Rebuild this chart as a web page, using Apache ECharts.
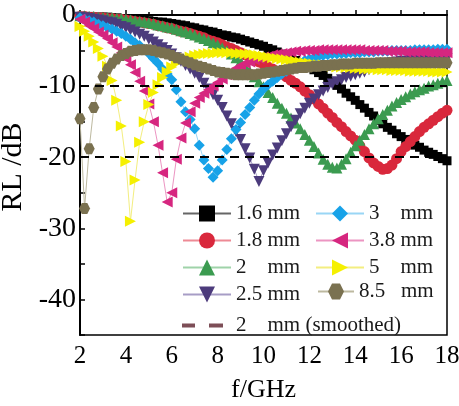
<!DOCTYPE html>
<html>
<head>
<meta charset="utf-8">
<script src="https://cdn.jsdelivr.net/npm/echarts@6/dist/echarts.min.js"></script>
<style>
    html, body { margin: 0; padding: 0; background: #fff; }
    #main { width: 459px; height: 406px; }
</style>
</head>
<body>
<div id="main"></div>
<script>
var freq = [2.0, 2.2, 2.4, 2.6, 2.8, 3.0, 3.2, 3.4, 3.6, 3.8,
    4.0, 4.2, 4.4, 4.6, 4.8, 5.0, 5.2, 5.4, 5.6, 5.8,
    6.0, 6.2, 6.4, 6.6, 6.8, 7.0, 7.2, 7.4, 7.6, 7.8,
    8.0, 8.2, 8.4, 8.6, 8.8, 9.0, 9.2, 9.4, 9.6, 9.8,
    10.0, 10.2, 10.4, 10.6, 10.8, 11.0, 11.2, 11.4, 11.6, 11.8,
    12.0, 12.2, 12.4, 12.6, 12.8, 13.0, 13.2, 13.4, 13.6, 13.8,
    14.0, 14.2, 14.4, 14.6, 14.8, 15.0, 15.2, 15.4, 15.6, 15.8,
    16.0, 16.2, 16.4, 16.6, 16.8, 17.0, 17.2, 17.4, 17.6, 17.8,
    18.0];

// RL (dB) for each thickness, one row per GHz
var rl16 = [-0.2, -0.2, -0.2, -0.3, -0.3, -0.3, -0.3, -0.4, -0.4, -0.5,
    -0.5, -0.6, -0.6, -0.7, -0.7, -0.8, -0.9, -1.0, -1.0, -1.1,
    -1.2, -1.3, -1.4, -1.5, -1.7, -1.8, -2.0, -2.1, -2.3, -2.4,
    -2.6, -2.8, -2.9, -3.1, -3.2, -3.4, -3.6, -3.8, -4.0, -4.2,
    -4.4, -4.7, -4.9, -5.2, -5.5, -5.8, -6.1, -6.4, -6.7, -7.0,
    -7.3, -7.7, -8.1, -8.5, -8.9, -9.4, -9.9, -10.4, -11.0, -11.5,
    -12.0, -12.6, -13.1, -13.7, -14.2, -14.8, -15.3, -15.8, -16.2, -16.7,
    -17.1, -17.5, -17.9, -18.3, -18.6, -19.0, -19.3, -19.6, -19.9, -20.2,
    -20.5];
var rl18 = [-0.2, -0.2, -0.3, -0.3, -0.4, -0.4, -0.5, -0.5, -0.6, -0.6,
    -0.7, -0.8, -0.9, -1.0, -1.1, -1.2, -1.3, -1.5, -1.6, -1.8,
    -1.9, -2.1, -2.3, -2.4, -2.6, -2.8, -3.0, -3.2, -3.5, -3.7,
    -3.9, -4.2, -4.5, -4.7, -5.0, -5.3, -5.6, -5.9, -6.3, -6.6,
    -6.9, -7.3, -7.6, -8.0, -8.3, -8.7, -9.2, -9.6, -10.1, -10.7,
    -11.2, -11.8, -12.5, -13.1, -13.8, -14.4, -15.1, -15.7, -16.4, -17.0,
    -17.6, -18.4, -19.2, -20.1, -20.8, -21.3, -21.7, -21.6, -21.1, -20.2,
    -19.2, -18.5, -17.8, -17.1, -16.4, -15.8, -15.3, -14.8, -14.3, -13.8,
    -13.4];
var rl20 = [-0.1, -0.1, -0.2, -0.2, -0.3, -0.3, -0.4, -0.4, -0.5, -0.5,
    -0.6, -0.7, -0.8, -0.9, -1.0, -1.1, -1.2, -1.4, -1.5, -1.7,
    -1.8, -2.0, -2.2, -2.4, -2.6, -2.8, -3.1, -3.3, -3.6, -3.9,
    -4.2, -4.6, -5.0, -5.5, -6.0, -6.5, -7.2, -7.9, -8.7, -9.4,
    -10.1, -10.9, -11.6, -12.4, -13.1, -13.8, -14.5, -15.2, -16.0, -16.8,
    -17.6, -18.5, -19.4, -20.3, -21.0, -21.4, -21.5, -21.0, -20.2, -19.3,
    -18.4, -17.6, -16.8, -16.0, -15.3, -14.6, -14.0, -13.4, -12.8, -12.3,
    -11.9, -11.5, -11.1, -10.8, -10.5, -10.3, -10.0, -9.8, -9.6, -9.4,
    -9.2];
var rl25 = [-0.3, -0.4, -0.5, -0.6, -0.7, -0.8, -1.0, -1.1, -1.3, -1.6,
    -1.8, -2.1, -2.4, -2.7, -3.0, -3.4, -3.8, -4.2, -4.6, -5.0,
    -5.5, -6.0, -6.5, -7.1, -7.6, -8.2, -8.8, -9.6, -10.4, -11.2,
    -12.0, -13.0, -14.2, -15.3, -16.4, -17.5, -18.8, -20.1, -21.7, -23.4,
    -21.9, -20.8, -19.7, -18.7, -17.7, -16.7, -15.7, -14.8, -13.9, -13.1,
    -12.4, -11.8, -11.2, -10.7, -10.2, -9.7, -9.4, -9.1, -8.8, -8.6,
    -8.4, -8.2, -8.0, -7.7, -7.5, -7.2, -7.0, -6.9, -6.7, -6.6,
    -6.5, -6.5, -6.4, -6.4, -6.3, -6.3, -6.2, -6.2, -6.2, -6.1,
    -6.1];
var rl30 = [-0.4, -0.6, -0.8, -1.0, -1.3, -1.5, -1.8, -2.0, -2.3, -2.6,
    -3.0, -3.4, -3.9, -4.3, -4.8, -5.4, -6.1, -6.8, -7.6, -8.3,
    -9.1, -10.5, -12.2, -13.6, -14.7, -16.0, -18.3, -20.4, -21.6, -22.8,
    -21.9, -20.4, -18.9, -17.4, -16.1, -15.1, -14.0, -13.0, -12.0, -11.1,
    -10.4, -9.8, -9.3, -8.8, -8.3, -7.9, -7.4, -7.0, -6.7, -6.4,
    -6.2, -6.0, -5.8, -5.7, -5.6, -5.5, -5.5, -5.4, -5.4, -5.3,
    -5.3, -5.3, -5.2, -5.2, -5.2, -5.1, -5.1, -5.1, -5.0, -5.0,
    -5.0, -5.0, -5.0, -4.9, -4.9, -4.9, -4.9, -4.9, -4.8, -4.8,
    -4.8];
var rl38 = [-0.6, -1.0, -1.5, -1.9, -2.4, -2.8, -3.3, -3.9, -4.5, -5.3,
    -6.1, -7.0, -8.1, -9.3, -10.7, -12.5, -15.0, -18.3, -22.2, -26.3,
    -25.0, -20.3, -17.3, -15.2, -13.6, -12.4, -11.6, -11.0, -10.5, -10.0,
    -9.5, -9.0, -8.4, -7.9, -7.5, -7.1, -6.8, -6.6, -6.3, -6.1,
    -5.9, -5.8, -5.6, -5.5, -5.4, -5.3, -5.2, -5.1, -5.1, -5.0,
    -5.0, -5.0, -4.9, -4.9, -4.9, -4.9, -4.9, -4.9, -4.9, -4.9,
    -4.9, -4.9, -5.0, -5.0, -5.0, -5.0, -5.0, -5.1, -5.1, -5.1,
    -5.1, -5.2, -5.2, -5.2, -5.2, -5.2, -5.3, -5.3, -5.3, -5.3,
    -5.3];
var rl50 = [-1.6, -2.3, -3.0, -3.8, -4.7, -5.8, -7.2, -9.2, -12.0, -15.6,
    -20.6, -29.0, -23.2, -17.9, -15.0, -12.6, -10.9, -9.8, -8.8, -8.0,
    -7.3, -6.8, -6.4, -6.1, -5.9, -5.7, -5.6, -5.5, -5.4, -5.4,
    -5.3, -5.3, -5.3, -5.3, -5.4, -5.4, -5.5, -5.5, -5.6, -5.7,
    -5.8, -5.9, -6.0, -6.1, -6.2, -6.3, -6.4, -6.5, -6.6, -6.7,
    -6.8, -6.9, -7.0, -7.0, -7.1, -7.2, -7.3, -7.3, -7.4, -7.4,
    -7.5, -7.5, -7.6, -7.6, -7.6, -7.7, -7.7, -7.7, -7.8, -7.8,
    -7.8, -7.8, -7.9, -7.9, -7.9, -7.9, -7.9, -8.0, -8.0, -8.0,
    -8.0];
var rl85 = [-14.6, -27.2, -18.8, -13.0, -10.4, -8.7, -7.6, -6.8, -6.2, -5.7,
    -5.4, -5.1, -5.0, -4.9, -4.9, -4.9, -5.0, -5.2, -5.3, -5.5,
    -5.7, -6.0, -6.2, -6.5, -6.7, -7.0, -7.2, -7.4, -7.6, -7.8,
    -8.0, -8.1, -8.2, -8.3, -8.4, -8.4, -8.4, -8.4, -8.4, -8.3,
    -8.2, -8.1, -8.0, -7.9, -7.8, -7.7, -7.6, -7.5, -7.4, -7.4,
    -7.3, -7.2, -7.2, -7.1, -7.1, -7.0, -7.0, -6.9, -6.9, -6.9,
    -6.8, -6.8, -6.8, -6.8, -6.8, -6.7, -6.7, -6.7, -6.7, -6.7,
    -6.7, -6.7, -6.7, -6.7, -6.7, -6.7, -6.7, -6.7, -6.7, -6.7,
    -6.7];

// smoothed 2 mm curve
var smoothFreq = [2, 3, 4, 5, 6, 7, 8, 8.5, 9, 9.5, 10, 10.5, 11, 11.5, 12, 12.5,
    13, 13.2, 13.5, 14, 14.5, 15, 15.5, 16, 16.5, 17, 17.5, 18];
var smoothRL = [-0.1, -0.3, -0.6, -1.1, -1.8, -2.8, -4.2, -5.2, -6.5, -8.3, -10.1, -12.0,
    -13.8, -15.6, -17.6, -19.9, -21.4, -21.6, -20.7, -18.4, -16.4, -14.6, -13.1,
    -11.9, -10.9, -10.2, -9.7, -9.2];

var refLevels = [-10, -20];
var yLabels = [0, -10, -20, -30, -40];

var names = ['1.6 mm', '1.8 mm', '2    mm', '2.5 mm', '3    mm', '3.8 mm', '5    mm', '8.5   mm'];
var smoothName = '2    mm (smoothed)';
var curves = [rl16, rl18, rl20, rl25, rl30, rl38, rl50, rl85];
var colors = ['#000000', '#d9283c', '#3b9b50', '#4c3b7c', '#17a2e8', '#d6267f', '#f5f000', '#7a7150'];
var lineColors = ['#666666', '#ee8a95', '#9fd3a9', '#a79dc6', '#99d6f5', '#ec95c2', '#f3ee80', '#bdb9a0'];
var symbols = [
    'rect',
    'circle',
    'triangle',
    'path://M0,0 L10,0 L5,9 Z',
    'diamond',
    'path://M0,5 L9,0 L9,10 Z',
    'path://M0,0 L9,5 L0,10 Z',
    'path://M-10,0 L-5,-8.66 L5,-8.66 L10,0 L5,8.66 L-5,8.66 Z'
];
var sizes = [9, 11, 11, 11, 11, 11, 11, 11];

var serif = 'Liberation Serif';

var series = curves.map(function (vals, k) {
    var s = {
        name: names[k],
        type: 'line',
        data: freq.map(function (f, i) { return [f, vals[i]]; }),
        symbol: symbols[k],
        symbolSize: sizes[k],
        showAllSymbol: true,
        itemStyle: { color: colors[k] },
        lineStyle: { color: lineColors[k], width: 1 }
    };
    if (k === 0) {
        s.markLine = {
            silent: true,
            symbol: 'none',
            label: { show: false },
            lineStyle: { color: '#000', type: [9, 6], width: 2 },
            data: refLevels.map(function (v) { return { yAxis: v }; })
        };
    }
    return s;
});

series.push({
    name: smoothName,
    type: 'line',
    data: smoothFreq.map(function (f, i) { return [f, smoothRL[i]]; }),
    smooth: 0.4,
    symbol: 'none',
    itemStyle: { color: '#7d4e57' },
    lineStyle: { color: '#7d4e57', width: 3, type: [8, 6] },
    z: 3
});

var legendText = { fontFamily: serif, fontSize: 21, color: '#1a1a1a' };

var option = {
    animation: false,
    backgroundColor: '#fff',
    grid: {
        left: 80,
        right: 12,
        top: 15,
        bottom: 71,
        containLabel: false,
        outerBoundsMode: 'none',
        show: true,
        borderColor: '#000',
        borderWidth: 1.5
    },
    legend: [{
        data: names.slice(0, 4),
        orient: 'vertical',
        left: 182,
        top: 203,
        padding: 0,
        itemWidth: 48,
        itemHeight: 20,
        itemGap: 6,
        textStyle: legendText
    }, {
        data: names.slice(4, 7),
        orient: 'vertical',
        left: 315,
        top: 203,
        padding: 0,
        itemWidth: 48,
        itemHeight: 20,
        itemGap: 6,
        textStyle: legendText
    }, {
        data: names.slice(7),
        left: 317,
        top: 281,
        padding: 0,
        itemWidth: 36,
        itemHeight: 20,
        textStyle: legendText
    }, {
        data: [{ name: smoothName, icon: 'path://M0,0h13v4H0z M27,0h14v4H27z' }],
        left: 182,
        top: 315,
        padding: 0,
        itemWidth: 41,
        itemHeight: 4,
        textStyle: { fontFamily: serif, fontSize: 21, color: '#1a1a1a', padding: [0, 0, 0, 8] }
    }],
    xAxis: {
        type: 'value',
        min: 2,
        max: 18,
        interval: 2,
        name: 'f/GHz',
        nameLocation: 'middle',
        nameGap: 42,
        nameTextStyle: { fontFamily: serif, fontSize: 26, color: '#000' },
        axisLine: { lineStyle: { color: '#000', width: 2 } },
        axisTick: { inside: true, length: 5, lineStyle: { color: '#000', width: 1.5 } },
        minorTick: { show: true, splitNumber: 2, length: 3, lineStyle: { color: '#000', width: 1.5 } },
        axisLabel: { fontFamily: serif, fontSize: 25, color: '#000', margin: 9 },
        splitLine: { show: false }
    },
    yAxis: {
        type: 'value',
        min: -45,
        max: 0,
        interval: 5,
        name: 'RL /dB',
        nameLocation: 'middle',
        nameGap: 40,
        nameTextStyle: { fontFamily: serif, fontSize: 30, color: '#000', padding: [0, 0, 0, 16] },
        axisLine: { lineStyle: { color: '#000', width: 2 } },
        axisTick: { inside: true, length: 5, lineStyle: { color: '#000', width: 1.5 } },
        axisLabel: {
            fontFamily: serif,
            fontSize: 28,
            color: '#000',
            margin: 4,
            formatter: function (v) {
                return yLabels.indexOf(v) >= 0 ? String(v) : '';
            }
        },
        splitLine: { show: false }
    },
    series: series
};

var myChart = echarts.init(document.getElementById('main'));
myChart.setOption(option);
</script>
</body>
</html>
